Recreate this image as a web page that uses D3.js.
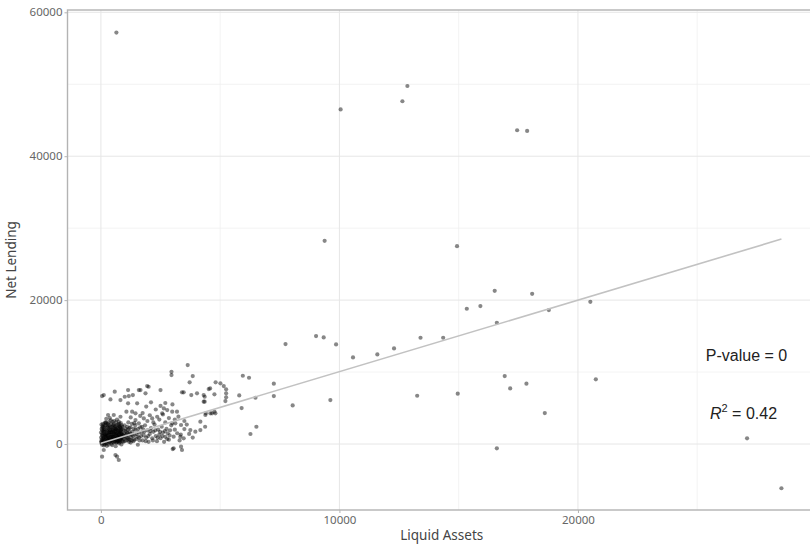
<!DOCTYPE html>
<html>
<head>
<meta charset="utf-8">
<script src="https://cdn.jsdelivr.net/npm/d3@7"></script>
<style>
  body { margin: 0; background: #fff; }
  svg { display: block; }
</style>
</head>
<body>
<div id="chart"></div>
<script>
// tick values
var xMajor = [0, 10000, 20000],
    xMinor = [5000, 15000, 25000],
    yMajor = [0, 20000, 40000, 60000],
    yMinor = [10000, 30000, 50000];

// fitted line (lm) and annotation
var fit = {intercept: 120, slope: 0.994, xFrom: 0, xTo: 28530};
var pValueText = "P-value = 0",
    r2Value = "0.42";

// points far from the origin: [liquid assets, net lending]
var outlierPoints = [
  [650, 57180], [12850, 49760], [12640, 47640], [10050, 46500], [17450, 43610],
  [17870, 43520], [9380, 28240], [14930, 27500], [16510, 21290], [18080, 20880],
  [20520, 19760], [15910, 19170], [15340, 18800], [18780, 18610], [16600, 16850],
  [9020, 15000], [9340, 14820], [13400, 14770], [14350, 14770], [7740, 13890],
  [9860, 13840], [12290, 13280], [11590, 12450], [10570, 12040], [16930, 9440],
  [20750, 8990], [17840, 8380], [17160, 7730], [14960, 6990], [13260, 6710],
  [9620, 6110], [18610, 4300], [27090, 790], [16600, -600], [28530, -6150]
];

// middle range points
var middlePoints = [
  [5950, 9490], [6210, 9210], [7250, 8380], [7250, 6670], [6480, 6430],
  [5800, 6760], [5900, 5000], [8040, 5370], [6520, 2400], [6270, 1390],
  [4810, 8570], [5010, 8430], [5150, 8060], [5250, 7600], [5250, 7040],
  [5250, 6490], [5220, 5970], [4760, 6900], [4580, 7730], [4350, 6570],
  [4350, 5880], [4400, 4260], [4590, 4260], [4800, 4260], [4370, 2400],
  [3640, 10970], [2960, 10040], [2960, 9580], [3850, 9440], [3720, 8570],
  [3400, 7180], [3470, 7180], [3790, 6800], [4030, 7040], [4310, 6800],
  [4520, 7640], [4310, 5880], [4380, 4030], [4660, 4260], [4760, 4490],
  [4170, 3100], [3960, 1710], [4170, 1940], [3750, 1940], [3500, 2080],
  [3360, 2640], [3120, 2870], [2990, 2870], [3190, 4490], [2990, 4490],
  [2780, 4720], [2640, 4950], [2570, 4260], [3050, 1020], [3330, 1020],
  [3470, 790], [3050, -600], [3360, -370], [3400, -830], [3010, -700],
  [1940, 8060], [1590, 7500], [1140, 7500], [580, 7270], [120, 6800],
  [400, 6200], [820, 6110], [1170, 6670], [1140, 5650], [1520, 5650],
  [1870, 7040], [1070, 4490], [1310, 4490], [1450, 4260], [300, 4030],
  [540, 4030], [820, 3790], [750, 3100], [1800, 3560], [2150, 3560],
  [2360, 3790], [1450, 3330], [1590, 2870], [1000, 6570], [1340, 6800],
  [1660, 7500], [2000, 7960], [2500, 7500], [50, 6670],
  [120, -830], [50, -1760], [680, -1760], [610, -1530], [750, -2220]
];

// dense cluster near the origin
var clusterPoints = [
  [20, 150], [40, 600], [60, 1100], [80, 300], [100, 1800], [120, -200], [140, 900], [160, 2400],
  [180, 500], [200, 1400], [220, 2900], [240, 100], [260, 700], [280, 1900], [300, 1200], [320, -100],
  [340, 2600], [360, 400], [380, 1600], [400, 800], [420, 2200], [440, 50], [460, 1300], [480, 3100],
  [500, 600], [520, 1900], [540, 200], [560, 1000], [580, 2500], [600, 1500], [620, -300], [640, 700],
  [660, 2000], [680, 300], [700, 1200], [720, 2700], [740, 900], [760, 100], [780, 1700], [800, 500],
  [820, 2300], [840, 1100], [860, -50], [880, 1500], [900, 800],
  [10, 900], [30, 2100], [50, -100], [70, 1500], [90, 2800], [110, 400], [130, 1700], [150, 100],
  [170, 1200], [190, 3000], [210, 800], [230, 1900], [250, -250], [270, 1100], [290, 2500], [310, 600],
  [330, 1500], [350, 200], [370, 2000], [390, 1000], [410, 3300], [430, 500], [450, 1700], [470, -150],
  [490, 1100], [510, 2600], [530, 900], [550, 1600], [570, 400], [590, 2100], [610, 1200], [630, 3000],
  [650, 200], [670, 1500], [690, 900], [710, 2200], [730, 400], [750, 1400], [770, 2800], [790, 1000],
  [810, 300], [830, 1800], [850, 700], [870, 2600], [890, 1200],
  [15, 400], [45, 1300], [75, 2500], [105, 700], [135, 2000], [165, -50], [195, 1000], [225, 3500],
  [255, 1500], [285, 500], [315, 2200], [345, 900], [375, 3600], [405, 1900], [435, 1000], [465, 2400],
  [495, 300], [525, 1400], [555, 3200], [585, 700], [615, 2300], [645, 1300], [675, 3400], [705, 600],
  [735, 1900], [765, 1200], [795, 2400], [825, 800], [855, 2000], [885, 400],
  [25, 2700], [55, 1900], [85, 800], [115, 2300], [145, 1400], [175, 2900], [205, 200], [235, 1300],
  [265, 2300], [295, 900], [325, 3000], [355, 1700], [385, 300], [415, 1300], [445, 2800], [475, 800],
  [505, 1700], [535, 2200], [565, 1300], [595, 300], [625, 1800], [655, 2600], [685, 1100], [715, 1600],
  [745, 300], [775, 2200], [805, 1500], [835, 2900], [865, 1300], [895, 2100],
  [5, 1600], [35, 350], [65, 2300], [95, 1200], [125, 600], [155, 1900], [185, 2600], [215, 1100],
  [245, 400], [275, 1700], [305, 2800], [335, 700], [365, 1300], [395, 2400], [425, 1600], [455, 600],
  [485, 2000], [515, 1000], [545, 2700], [575, 1800], [605, 800], [635, 2100], [665, 500], [695, 1800],
  [725, 1000], [755, 2500], [785, 600], [815, 1900], [845, 1500], [875, 900], [905, 2400], [935, 300],
  [965, 1500], [995, 1100], [1045, 2100], [1085, 1600], [1135, 600], [1195, 2200], [1235, 1400], [1295, 500],
  [930, 1200], [960, 700], [990, 2600], [1030, 1800], [1060, 500], [1090, 900], [1130, 2000], [1160, 1200],
  [1210, 600], [1240, 2300], [1270, 900], [1320, 1700], [1360, 400], [1410, 1300], [1440, 2600], [1530, 1000],
  [1560, 2100], [1620, 500], [1720, 2400], [1820, 1700],
  [950, 1900], [1000, 400], [1050, 1300], [1100, 2400], [1150, 800], [1200, 1700], [1250, 200], [1300, 2800],
  [1350, 1100], [1400, 600], [1450, 2000], [1500, 1400], [1550, -100], [1600, 900], [1650, 2300], [1700, 1600],
  [1750, 500], [1800, 1200], [1850, 2600], [1900, 900], [1950, 1900], [2000, 300], [2050, 1400], [2100, 2200],
  [2150, 800], [2200, 1700], [2250, 2700], [2300, 1100], [2350, 400], [2400, 2000], [2450, 1300], [2500, 800],
  [2550, 2400], [2600, 1600], [2650, 300], [2700, 1000], [2750, 2100], [2800, 1500], [2850, 600], [2900, 1900],
  [1020, 1000], [1120, 1500], [1180, 300], [1280, 1300], [1380, 2100], [1480, 700], [1580, 1600], [1680, 1100],
  [1780, 2000], [1880, 400], [1980, 1100], [2080, 1800], [2180, 500], [2280, 1900], [2380, 900], [2480, 1700],
  [2580, 1100], [2680, 1800], [2780, 700], [2880, 1200],
  [1150, 3000], [1250, 3700], [1400, 2900], [1650, 3900], [1750, 4300], [1950, 3200], [2050, 4000], [2200, 3000],
  [2300, 4800], [2450, 3400], [2600, 4100], [2700, 3000], [2850, 3600], [2950, 2600], [3100, 3400], [3250, 3800],
  [3200, 1500], [3350, 1300], [3500, 3200], [3600, 2700], [3700, 1400], [3850, 900], [3100, 2000], [3300, 500],
  [2500, 5300], [2100, 5800], [1900, 5200], [2700, 5700], [3000, 5500]
];

var allPoints = clusterPoints.concat(middlePoints, outlierPoints);

// set the dimensions of the panel
var W = 810, H = 549;
var panel = {left: 67.5, right: 816, top: 10, bottom: 510};

var svg = d3.select("#chart")
  .append("svg")
    .attr("width", W)
    .attr("height", H);

var x = d3.scaleLinear()
  .domain([-1400, 29980])
  .range([panel.left, panel.right]);

var y = d3.scaleLinear()
  .domain([-9170, 60320])
  .range([panel.bottom, panel.top]);

// grid lines
var grid = svg.append("g");
grid.selectAll(".xminor").data(xMinor).enter().append("line")
  .attr("x1", d => x(d)).attr("x2", d => x(d))
  .attr("y1", panel.top).attr("y2", panel.bottom)
  .attr("stroke", "#f0f0f0").attr("stroke-width", 0.8);
grid.selectAll(".yminor").data(yMinor).enter().append("line")
  .attr("x1", panel.left).attr("x2", panel.right)
  .attr("y1", d => y(d)).attr("y2", d => y(d))
  .attr("stroke", "#f0f0f0").attr("stroke-width", 0.8);
grid.selectAll(".xmajor").data(xMajor).enter().append("line")
  .attr("x1", d => x(d)).attr("x2", d => x(d))
  .attr("y1", panel.top).attr("y2", panel.bottom)
  .attr("stroke", "#e6e6e6").attr("stroke-width", 1);
grid.selectAll(".ymajor").data(yMajor).enter().append("line")
  .attr("x1", panel.left).attr("x2", panel.right)
  .attr("y1", d => y(d)).attr("y2", d => y(d))
  .attr("stroke", "#e6e6e6").attr("stroke-width", 1);

// points
svg.append("g")
  .selectAll("circle")
  .data(allPoints)
  .enter().append("circle")
    .attr("cx", d => x(d[0]))
    .attr("cy", d => y(d[1]))
    .attr("r", 2.1)
    .attr("fill", "#000")
    .attr("fill-opacity", 0.47);

// regression line
svg.append("line")
  .attr("x1", x(fit.xFrom)).attr("y1", y(fit.intercept + fit.slope * fit.xFrom))
  .attr("x2", x(fit.xTo)).attr("y2", y(fit.intercept + fit.slope * fit.xTo))
  .attr("stroke", "#c2c2c2")
  .attr("stroke-width", 1.6);

// panel border
svg.append("rect")
  .attr("x", panel.left).attr("y", panel.top)
  .attr("width", panel.right - panel.left).attr("height", panel.bottom - panel.top)
  .attr("fill", "none")
  .attr("stroke", "#b3b3b3")
  .attr("stroke-width", 1.4);

// axes
var fmt = d3.format("d");
var xAxis = svg.append("g")
  .attr("transform", "translate(0," + panel.bottom + ")")
  .call(d3.axisBottom(x).tickValues(xMajor).tickFormat(fmt).tickSize(3).tickPadding(3));
var yAxis = svg.append("g")
  .attr("transform", "translate(" + panel.left + ",0)")
  .call(d3.axisLeft(y).tickValues(yMajor).tickFormat(fmt).tickSize(3).tickPadding(2));

[xAxis, yAxis].forEach(function(a) {
  a.select(".domain").remove();
  a.selectAll(".tick line").attr("stroke", "#b3b3b3");
  a.selectAll(".tick text")
    .attr("fill", "#666")
    .style("font-family", "'Noto Sans', sans-serif")
    .style("font-size", "11.5px");
});

// axis titles
svg.append("text")
  .attr("x", (panel.left + panel.right) / 2)
  .attr("y", 540)
  .attr("text-anchor", "middle")
  .attr("fill", "#444")
  .style("font-family", "'Noto Sans', sans-serif")
  .style("font-size", "13.5px")
  .text("Liquid Assets");

svg.append("text")
  .attr("transform", "translate(16," + ((panel.top + panel.bottom) / 2) + ") rotate(-90)")
  .attr("text-anchor", "middle")
  .attr("fill", "#444")
  .style("font-family", "'Noto Sans', sans-serif")
  .style("font-size", "13.5px")
  .text("Net Lending");

// annotation
svg.append("text")
  .attr("x", 746.5).attr("y", 361)
  .attr("text-anchor", "middle")
  .attr("fill", "#222")
  .style("font-family", "'Liberation Sans', Arial, sans-serif")
  .style("font-size", "16px")
  .text(pValueText);

var r2 = svg.append("text")
  .attr("x", 743.5).attr("y", 419)
  .attr("text-anchor", "middle")
  .attr("fill", "#222")
  .style("font-family", "'Liberation Sans', Arial, sans-serif")
  .style("font-size", "16px");
r2.append("tspan").style("font-style", "italic").text("R");
r2.append("tspan").attr("dy", -7).style("font-size", "11px").text("2");
r2.append("tspan").attr("dy", 7).text(" = " + r2Value);
</script>
</body>
</html>
